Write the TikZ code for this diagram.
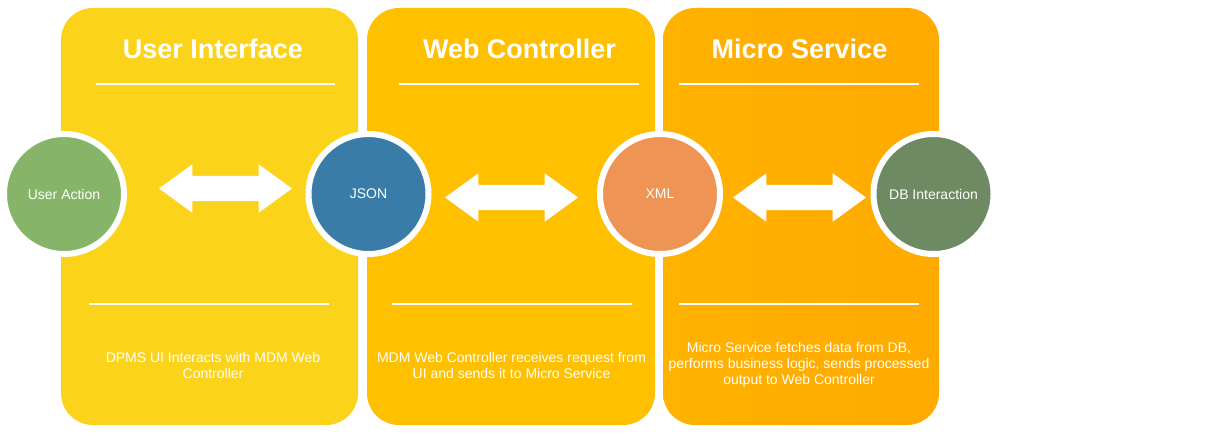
\documentclass[tikz,border=0pt]{standalone}
\usepackage{fontspec}
\setmainfont{Liberation Sans}
\usetikzlibrary{shapes,arrows,positioning,calc}

\definecolor{uiyellow}{RGB}{252,211,27}
\definecolor{wcyellow}{RGB}{255,192,0}
\definecolor{msorangeL}{RGB}{255,178,0}
\definecolor{msorangeR}{RGB}{255,170,0}
\definecolor{actgreen}{RGB}{134,181,106}
\definecolor{jsonblue}{RGB}{58,124,168}
\definecolor{xmlorange}{RGB}{238,148,85}
\definecolor{dbgreen}{RGB}{109,138,99}

\begin{document}
\begin{tikzpicture}[x=1pt,y=-1pt,
    panel/.style={rectangle,rounded corners=32pt,minimum height=417pt,inner sep=0pt},
    ball/.style={circle,draw=white,line width=6pt,minimum size=120pt,inner sep=0pt,
      text=white,font=\fontsize{14}{16}\selectfont},
    title/.style={text=white,font=\bfseries\fontsize{27}{30}\selectfont},
    body/.style={text=white,align=center,font=\fontsize{14}{16}\selectfont},
    sep/.style={white,line width=2pt},
    dblarrow/.style={double arrow,fill=white,minimum height=133pt,inner xsep=0pt,
      inner ysep=12.5pt,double arrow head extend=11.5pt,double arrow tip angle=72}]
  \useasboundingbox (0,0) rectangle (1220,433);
  % panels
  \node[panel,fill=uiyellow,minimum width=297pt] (ui) at (209.5,216.5) {};
  \node[panel,fill=wcyellow,minimum width=288pt] (wc) at (511,216.5) {};
  \node[panel,left color=msorangeL,right color=msorangeR,minimum width=276pt] (ms) at (801,216.5) {};
  \node[title] (uititle) at (213,49) {User Interface};
  \node[title] (wctitle) at (519.5,49) {Web Controller};
  \node[title] (mstitle) at (799.5,49) {Micro Service};
  \draw[sep] (96,84) -- (335,84);
  \draw[sep] (399,84) -- (639,84);
  \draw[sep] (679,84) -- (919,84);
  \draw[sep] (89,304) -- (329,304);
  \draw[sep] (392,304) -- (632,304);
  \draw[sep] (679,304) -- (919,304);
  \node[body] (uibody) at (213,365) {DPMS UI Interacts with MDM Web\\Controller};
  \node[body] (wcbody) at (511.5,365) {MDM Web Controller receives request from\\UI and sends it to Micro Service};
  \node[body] (msbody) at (799,365) {Micro Service fetches data from DB,\\performs business logic, sends processed\\output to Web Controller};
  % circles
  \node[ball,fill=actgreen] (action) at (64,194) {User Action};
  \node[ball,fill=jsonblue] (json) at (368.5,194) {JSON};
  \node[ball,fill=xmlorange] (xml) at (660,194) {XML};
  \node[ball,fill=dbgreen] (db) at (933.5,194) {DB Interaction};
  % arrows
  \node[dblarrow] (uiarrow) at (225.5,188.5) {};
  \node[dblarrow] (wcarrow) at (511.5,197.5) {};
  \node[dblarrow] (msarrow) at (799.5,197.5) {};
\end{tikzpicture}
\end{document}
